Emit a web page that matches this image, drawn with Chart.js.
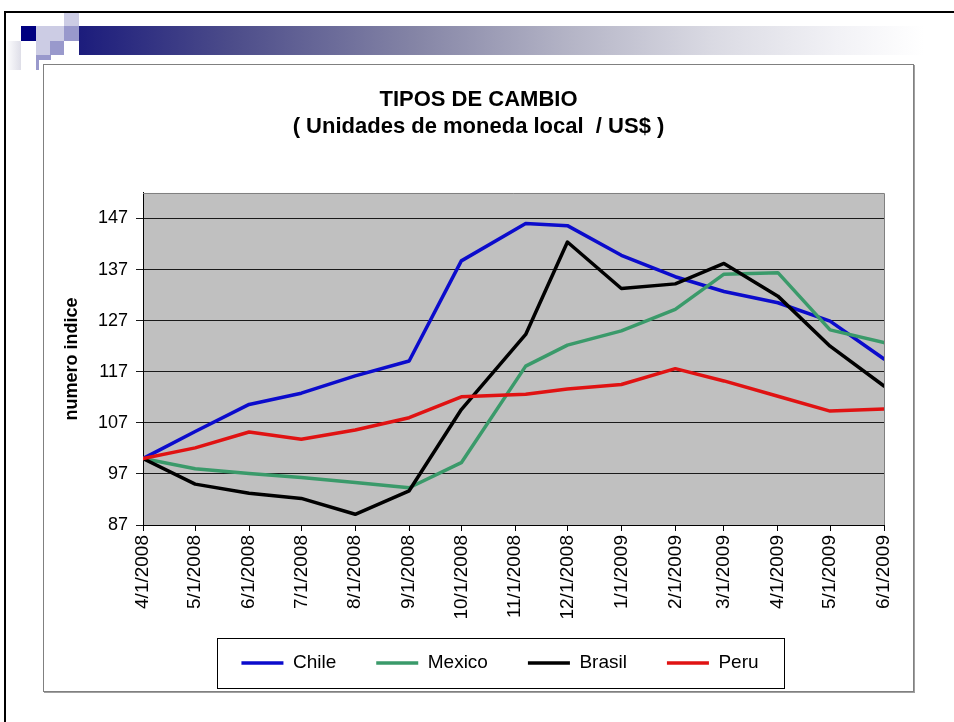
<!DOCTYPE html>
<html lang="es">
<head>
<meta charset="utf-8">
<title>Tipos de cambio</title>
<script src="https://cdn.jsdelivr.net/npm/chart.js@4.4.1/dist/chart.umd.min.js"></script>
<style>
  body { margin: 0; width: 954px; height: 722px; background: #fff; position: relative; overflow: hidden; }
  .pieza { position: absolute; }
  .linea-sup { left: 4px; top: 11px; width: 950px; height: 2px; background: #000; }
  .linea-izq { left: 4px; top: 11px; width: 2px; height: 711px; background: #000; }
  .difuso { left: 6px; top: 41px; width: 15px; height: 29px; background: linear-gradient(to right, #fff, #dedee8); }
  .navy { background: #000080; }
  .claro { background: #ccccE4; }
  .medio { background: #9999cc; }
  .barra { left: 79px; top: 26px; width: 845px; height: 29px;
           background: linear-gradient(to right, #1c1c7c 0%, #4c4c8a 18%, #8585a6 40%, #b4b4c6 58%, #dadae3 75%, #f2f2f6 90%, #fff 100%); }
  .caja { left: 43px; top: 64px; width: 869px; height: 626px; border: 1px solid #808080;
          box-shadow: 1px 1px 0 #a0a0a0; background: #fff; }
  #grafico { display: block; }
</style>
</head>
<body>
<div class="pieza linea-sup"></div>
<div class="pieza linea-izq"></div>
<div class="pieza difuso"></div>
<div class="pieza claro" style="left:64px;top:13px;width:15px;height:13px"></div>
<div class="pieza navy" style="left:21px;top:26px;width:15px;height:15px"></div>
<div class="pieza claro" style="left:36px;top:26px;width:28px;height:15px"></div>
<div class="pieza medio" style="left:64px;top:26px;width:15px;height:15px"></div>
<div class="pieza claro" style="left:36px;top:41px;width:14px;height:14px"></div>
<div class="pieza medio" style="left:50px;top:41px;width:14px;height:14px"></div>
<div class="pieza medio" style="left:36px;top:55px;width:15px;height:5px"></div>
<div class="pieza medio" style="left:36px;top:60px;width:3px;height:10px"></div>
<div class="pieza barra"></div>

<div class="pieza caja">
  <canvas id="grafico" width="869" height="626"></canvas>
</div>

<script>
// Meses del eje X y fechas de cada observación
const meses = ['4/1/2008', '5/1/2008', '6/1/2008', '7/1/2008', '8/1/2008', '9/1/2008', '10/1/2008',
    '11/1/2008', '12/1/2008', '1/1/2009', '2/1/2009', '3/1/2009', '4/1/2009', '5/1/2009', '6/1/2009'];
const fechas = ['4/1/2008', '5/1/2008', '6/1/2008', '7/1/2008', '8/1/2008', '9/1/2008', '10/1/2008',
    '11/7/2008', '12/1/2008', '1/1/2009', '2/1/2009', '3/1/2009', '4/1/2009', '5/1/2009', '6/1/2009'];

// Número índice (abril 2008 = 100)
const chile  = [100, 105.3, 110.6, 112.8, 116.2, 119.1, 138.7, 146.0, 145.6, 139.8, 135.6, 132.7, 130.5, 126.9, 119.5];
const mexico = [100, 98.0, 97.1, 96.3, 95.3, 94.3, 99.2, 118.1, 122.2, 125.0, 129.2, 136.1, 136.4, 125.2, 122.7];
const brasil = [100, 95.0, 93.2, 92.2, 89.1, 93.7, 109.6, 124.3, 142.4, 133.3, 134.2, 138.2, 131.8, 122.0, 114.2];
const peru   = [100, 102.1, 105.2, 103.8, 105.6, 108.0, 112.1, 112.6, 113.6, 114.5, 117.6, 115.2, 112.2, 109.3, 109.7];

const marcasY = [87, 97, 107, 117, 127, 137, 147];

const inicio = Date.UTC(2008, 3, 1);
function dias(txt) {
    const [m, d, a] = txt.split('/').map(Number);
    return (Date.UTC(a, m - 1, d) - inicio) / 86400000;
}
const diasMeses = meses.map(dias);
const puntos = serie => serie.map((v, i) => ({ x: dias(fechas[i]), y: v }));

Chart.defaults.font.family = 'Arial, "Liberation Sans", sans-serif';
Chart.defaults.color = '#000';

// fondo gris del área de trazado y su borde
const fondoGrafico = {
    id: 'fondoGrafico',
    beforeDraw(chart) {
        const { ctx, chartArea: a } = chart;
        ctx.save();
        ctx.fillStyle = '#c0c0c0';
        ctx.fillRect(a.left, a.top, a.width, a.height);
        ctx.restore();
    },
    beforeDatasetsDraw(chart) {
        const { ctx, chartArea: a } = chart;
        ctx.save();
        ctx.strokeStyle = '#808080';
        ctx.lineWidth = 1;
        ctx.beginPath();
        ctx.moveTo(a.left, Math.round(a.top) + 0.5);
        ctx.lineTo(Math.round(a.right) + 0.5, Math.round(a.top) + 0.5);
        ctx.lineTo(Math.round(a.right) + 0.5, a.bottom);
        ctx.stroke();
        ctx.restore();
    }
};

// recuadro de la leyenda; título centrado en todo el ancho y leyenda algo más arriba
const marcoLeyenda = {
    id: 'marcoLeyenda',
    afterLayout(chart) {
        const t = chart.titleBlock;
        t.left = 0;
        t.right = chart.width;
        t.width = chart.width;
        const l = chart.legend;
        l.top -= 8.5;
        l.bottom -= 8.5;
        l.left -= 13.5;
        l.right -= 13.5;
    },
    afterDraw(chart) {
        const cajas = chart.legend.legendHitBoxes;
        if (!cajas || !cajas.length) return;
        const primera = cajas[0];
        const ultima = cajas[cajas.length - 1];
        const medio = primera.top + primera.height / 2;
        const x1 = Math.round(primera.left - 24) + 0.5;
        const x2 = Math.round(ultima.left + ultima.width + 25) + 0.5;
        const ctx = chart.ctx;
        ctx.save();
        ctx.strokeStyle = '#000';
        ctx.lineWidth = 1;
        ctx.strokeRect(x1, Math.round(medio - 25) + 0.5, x2 - x1, 50);
        ctx.restore();
    }
};

function serie(nombre, datos, color, orden) {
    return {
        label: nombre,
        data: puntos(datos),
        borderColor: color,
        backgroundColor: color,
        borderWidth: 3.5,
        borderJoinStyle: 'round',
        borderCapStyle: 'round',
        pointRadius: 0,
        tension: 0,
        order: orden
    };
}

new Chart(document.getElementById('grafico'), {
    type: 'line',
    data: {
        datasets: [
            serie('Chile', chile, '#0b0bcc', 4),
            serie('Mexico', mexico, '#3a9a6a', 3),
            serie('Brasil', brasil, '#000000', 2),
            serie('Peru', peru, '#e01212', 1)
        ]
    },
    options: {
        responsive: false,
        animation: false,
        layout: { padding: { top: 0, left: 0, right: 29, bottom: 0 } },
        plugins: {
            title: {
                display: true,
                text: ['TIPOS DE CAMBIO', '( Unidades de moneda local  / US$ )'],
                color: '#000',
                font: { size: 22, weight: 'bold', lineHeight: 1.21 },
                padding: { top: 21.7, bottom: 53 }
            },
            legend: {
                position: 'bottom',
                fullSize: false,
                labels: {
                    usePointStyle: true,
                    pointStyle: 'line',
                    pointStyleWidth: 42,
                    padding: 40,
                    color: '#000',
                    font: { size: 19 },
                    sort: (a, b) => a.datasetIndex - b.datasetIndex
                }
            },
            tooltip: { enabled: false }
        },
        scales: {
            x: {
                type: 'linear',
                min: 0,
                max: diasMeses[diasMeses.length - 1],
                afterBuildTicks(s) { s.ticks = diasMeses.map(v => ({ value: v })); },
                afterFit(s) { s.height = 97; s.paddingLeft = 0; s.paddingRight = 0; },
                grid: { drawOnChartArea: false, drawTicks: true, tickLength: 6, color: '#000' },
                border: { color: '#000', width: 1 },
                ticks: {
                    autoSkip: false,
                    minRotation: 90,
                    maxRotation: 90,
                    padding: 4,
                    color: '#000',
                    font: { size: 19 },
                    callback: (v, i) => meses[i]
                }
            },
            y: {
                min: 87,
                max: 152,
                afterBuildTicks(s) { s.ticks = marcasY.map(v => ({ value: v })); },
                afterFit(s) { s.width = 99; s.paddingTop = 0; s.paddingBottom = 0; },
                grid: { color: '#1a1a1a', drawTicks: true, tickLength: 7 },
                border: { color: '#000', width: 1 },
                ticks: { padding: 8, color: '#000', font: { size: 18 } },
                title: {
                    display: true,
                    text: 'numero indice',
                    color: '#000',
                    font: { size: 18, weight: 'bold' },
                    padding: { top: 17, bottom: 0 }
                }
            }
        }
    },
    plugins: [fondoGrafico, marcoLeyenda]
});
</script>
</body>
</html>
